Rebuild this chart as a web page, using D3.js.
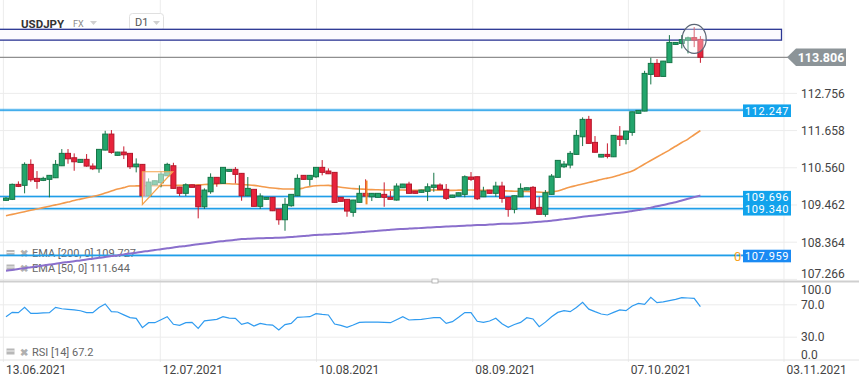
<!DOCTYPE html>
<html><head><meta charset="utf-8">
<script src="https://cdn.jsdelivr.net/npm/d3@7"></script>
<style>
html,body{margin:0;padding:0;background:#fff;}
svg{display:block;font-family:Roboto,"Open Sans",sans-serif;}
</style></head>
<body>
<div id="chart"></div>
<script>
// ---------- data ----------
const symbol = "USDJPY", market = "FX", interval = "D1";
const open = [109.584,109.614,110.056,110.027,110.646,110.233,110.174,110.204,110.251,110.605,
110.971,110.841,110.705,110.794,110.596,110.516,111.068,111.540,110.912,111.009,
110.971,110.575,110.646,109.720,110.044,110.104,110.310,110.605,109.976,109.791,
110.044,110.027,109.395,109.838,110.263,110.086,110.440,110.499,110.381,109.720,
109.909,109.407,109.614,109.673,109.328,109.012,109.425,109.720,110.322,110.204,
110.281,110.558,110.449,110.410,109.673,109.614,109.230,109.525,109.791,109.690,
109.673,109.761,109.673,109.593,109.956,110.065,109.859,109.820,109.850,109.968,
110.036,109.909,109.673,109.711,109.761,110.272,110.281,109.690,109.888,109.791,
110.006,109.673,109.319,109.690,109.888,109.968,109.378,109.171,109.761,110.263,
110.575,110.626,110.941,111.460,111.974,111.295,110.862,110.941,110.870,111.481,
111.384,111.590,112.151,112.219,113.301,113.626,113.242,113.649,114.186,114.216,
114.313,114.387,114.334];
const high = [109.682,110.080,110.144,110.705,110.794,110.449,110.281,110.331,110.773,111.097,
111.097,110.971,110.803,110.950,110.675,111.097,111.637,111.658,111.015,111.177,
110.980,110.823,110.655,110.233,110.168,110.428,110.693,110.693,109.982,110.086,
110.050,110.036,109.938,110.381,110.272,110.567,110.508,110.567,110.390,110.272,
109.918,109.791,109.682,109.682,109.333,109.652,109.770,110.351,110.331,110.331,
110.567,110.773,110.528,110.419,109.682,109.623,109.599,110.027,110.204,109.800,
109.800,110.115,109.859,110.086,110.071,110.133,109.865,109.894,110.086,110.398,
110.086,110.065,109.747,109.814,110.322,110.419,110.286,109.985,109.894,110.133,
110.133,109.682,109.726,110.086,109.962,110.006,109.690,109.888,110.360,110.773,
110.744,111.039,111.658,112.033,112.077,111.481,110.950,111.266,111.510,111.776,
111.634,112.204,112.248,113.408,113.791,113.753,113.699,114.460,114.254,114.460,
114.416,114.697,114.431];
const low = [109.564,109.593,109.976,109.791,110.133,109.926,110.153,109.673,110.242,110.596,
110.664,110.457,110.699,110.575,110.478,110.398,111.059,110.959,110.906,110.803,
110.508,110.410,109.711,109.711,110.036,109.968,110.301,109.932,109.711,109.711,
109.962,109.053,109.328,109.779,109.985,110.080,110.434,110.086,109.572,109.711,
109.401,109.328,109.608,109.268,108.864,108.687,109.395,109.711,110.198,110.015,
110.242,110.322,110.360,109.519,109.549,109.101,109.101,109.519,109.702,109.564,
109.667,109.395,109.608,109.578,109.947,109.785,109.785,109.814,109.564,109.838,
109.903,109.593,109.667,109.705,109.673,110.153,109.593,109.682,109.785,109.690,
109.513,109.101,109.201,109.682,109.882,109.328,109.165,109.101,109.755,110.257,
110.537,110.528,110.935,111.186,111.260,110.994,110.856,110.823,110.862,111.186,
111.236,111.490,112.145,112.213,113.006,113.236,113.236,113.643,114.180,114.068,
113.921,114.107,113.643];
const close = [109.652,110.056,109.997,110.646,110.192,110.144,110.233,110.322,110.646,110.971,
110.811,110.723,110.794,110.596,110.516,111.089,111.540,111.000,111.009,110.929,
110.575,110.655,109.720,110.124,110.163,110.360,110.646,109.938,109.791,110.044,
109.968,109.395,109.888,110.263,110.086,110.558,110.499,110.351,109.720,109.938,
109.407,109.711,109.673,109.277,109.012,109.466,109.761,110.233,110.204,110.322,
110.558,110.410,110.369,109.525,109.555,109.268,109.593,109.791,109.711,109.791,
109.791,109.673,109.614,110.006,110.065,109.791,109.791,109.888,109.985,110.036,
109.909,109.643,109.741,109.808,110.281,110.204,109.631,109.859,109.791,110.006,
109.643,109.319,109.720,109.938,109.956,109.336,109.171,109.808,110.301,110.764,
110.655,110.971,111.502,111.974,111.266,111.003,110.941,110.882,111.502,111.384,
111.629,112.198,112.239,113.331,113.626,113.242,113.694,114.245,114.245,114.325,
114.381,114.313,113.806];
const ema50 = [109.130,109.17,109.21,109.25,109.29,109.328,109.37,109.41,109.45,109.49,
109.534,109.58,109.62,109.66,109.70,109.741,109.80,109.86,109.918,109.96,
110.006,110.01,110.012,110.015,110.018,110.02,110.022,110.024,110.026,110.027,
110.027,110.04,110.05,110.06,110.07,110.08,110.075,110.065,110.05,110.04,
110.027,110.00,109.97,109.947,109.93,109.918,109.918,109.918,109.95,109.99,
110.015,110.022,110.027,110.00,109.97,109.95,109.93,109.92,109.91,109.90,
109.895,109.89,109.888,109.89,109.89,109.885,109.88,109.885,109.89,109.89,
109.885,109.88,109.88,109.885,109.888,109.888,109.885,109.88,109.875,109.87,
109.867,109.86,109.855,109.85,109.845,109.838,109.826,109.814,109.835,109.859,
109.92,109.98,110.02,110.065,110.11,110.154,110.20,110.24,110.28,110.335,
110.39,110.449,110.55,110.655,110.76,110.862,110.965,111.068,111.18,111.29,
111.392,111.52,111.644];
const ema200 = [107.508,107.53,107.56,107.58,107.61,107.64,107.66,107.69,107.71,107.74,
107.764,107.79,107.81,107.84,107.86,107.89,107.91,107.94,107.96,107.99,
108.015,108.04,108.07,108.09,108.12,108.14,108.17,108.19,108.22,108.24,
108.266,108.29,108.31,108.33,108.36,108.38,108.40,108.42,108.44,108.45,
108.46,108.465,108.47,108.475,108.481,108.49,108.50,108.52,108.53,108.55,
108.561,108.57,108.58,108.59,108.60,108.611,108.63,108.64,108.66,108.67,
108.69,108.70,108.72,108.729,108.74,108.75,108.758,108.77,108.78,108.79,
108.80,108.81,108.82,108.826,108.835,108.845,108.856,108.86,108.87,108.88,
108.89,108.895,108.90,108.906,108.92,108.94,108.95,108.97,108.985,109.003,
109.03,109.05,109.07,109.10,109.121,109.14,109.16,109.18,109.20,109.22,
109.24,109.27,109.30,109.33,109.37,109.41,109.446,109.49,109.53,109.58,
109.63,109.68,109.727];
const rsi = [54.7,60.1,59.7,66.2,58.8,58.8,59.3,59.7,66.2,64.5,
63.8,63.2,62,59.7,59.7,66,70.4,60.9,60.5,57,
53.5,52.7,41.2,47.3,47.3,51,54.7,45.3,44,47.3,
47.7,40.3,49.5,50.5,51.4,54.7,53,52.7,45.3,47.3,
43.2,46.5,45,44.4,38.3,45,46.5,53.9,54.3,54.7,
58.4,57.5,56.8,45.7,44,41.6,44.5,47.7,47.9,48,
48.1,47.7,47.3,51,54.7,50.6,51,51.4,52.5,53.5,
53.5,46.5,48.6,54,59.7,59.7,49,47.7,49.4,52.7,
46,41.6,45,47.7,53.5,51.9,42.4,48,54.7,60,
62.1,60.9,66,72.4,64,60.9,58,56.8,60,63,
62.1,68,71.2,70,78.6,72,73,74.5,76.1,78.2,
77.8,77.4,67.2];
const priceTicks = [112.756,111.658,110.560,109.462,108.364,107.266];
const rsiTicks = [100,70,30,0];
const dateLabels = ["13.06.2021","12.07.2021","10.08.2021","08.09.2021","07.10.2021","03.11.2021"];
const dateTickIndex = [-0.5,24.8,50,75.2,100.3,125.4];
const levelValues = [112.247,109.696,109.340,107.959];
const lastPrice = 113.806;
const zoneTop = 114.632, zoneBottom = 114.313;
const legendTexts = ["EMA [200, 0] 109.727","EMA [50, 0] 111.644"];
const rsiLegend = "RSI [14] 67.2";
// drawing objects (in data units: candle index, price)
const triangle = [[22,110.428],[26.9,110.428],[22,109.466]];
const ellipseCenter = [111.0,114.348];
const markerLine = [58.15,110.168,109.466];

// ---------- setup ----------
const W = 859, H = 385;
const svg = d3.select("#chart").append("svg").attr("width",W).attr("height",H);
const x = d3.scaleLinear().domain([0,112]).range([6,700.4]);
const y = d3.scaleLinear().domain([107.266,113.806]).range([278.9,57.3]);
const yr = d3.scaleLinear().domain([0,100]).range([361,280]);
const grid = "#ececec";

// vertical date grid
svg.append("g").attr("transform","translate(0,362)")
  .call(d3.axisBottom(x).tickValues(dateTickIndex).tickSize(-362).tickFormat((d,i)=>dateLabels[i]))
  .call(g=>{g.select(".domain").remove();
    g.selectAll("line").attr("stroke",grid);
    g.selectAll("text").attr("text-anchor","start").attr("dx",2.5).attr("y",3.5)
     .attr("fill","#444").style("font-size","12px").style("font-family","Roboto");});

// horizontal price grid + labels
svg.append("g").attr("transform","translate(797,0)")
  .call(d3.axisRight(y).tickValues(priceTicks).tickSize(-797).tickFormat(""))
  .call(g=>{g.select(".domain").remove(); g.selectAll("line").attr("stroke",grid);});
svg.append("g").selectAll("text").data(priceTicks).join("text")
  .attr("x",801).attr("y",d=>Math.min(274,y(d)+0.5)).attr("dy","0.36em")
  .attr("fill","#444").style("font-size","12px").text(d=>d.toFixed(3));

// RSI grid
svg.append("g").attr("transform","translate(797,0)")
  .call(d3.axisRight(yr).tickValues([70,30]).tickSize(-797).tickFormat(""))
  .call(g=>{g.select(".domain").remove(); g.selectAll("line").attr("stroke",grid);});
svg.append("line").attr("x1",0).attr("x2",859).attr("y1",360).attr("y2",360).attr("stroke","#e2e2e2");
svg.append("g").selectAll("text").data(rsiTicks).join("text")
  .attr("x",801).attr("y",d=>Math.max(289.5,Math.min(355,yr(d)))).attr("dy","0.36em")
  .attr("fill","#444").style("font-size","12px").text(d=>d.toFixed(1));

// separator between panels
svg.append("line").attr("x1",0).attr("x2",859).attr("y1",281.5).attr("y2",281.5).attr("stroke","#cfcfcf").attr("stroke-width",2);
svg.append("rect").attr("x",432).attr("y",279).attr("width",6).attr("height",4).attr("fill","#fff").attr("stroke","#aaa").attr("stroke-width",0.8);

// header
svg.append("text").attr("x",21).attr("y",27.5).attr("fill","#333").style("font-size","11.5px").style("font-weight","bold").text(symbol);
svg.append("text").attr("x",73).attr("y",26.5).attr("fill","#8a8a8a").style("font-size","9px").text(market);
svg.append("path").attr("d","M90,21 L97,21 L93.5,25 Z").attr("fill","#d0d0d0");
svg.append("rect").attr("x",129.5).attr("y",13.5).attr("width",34).attr("height",17).attr("rx",3).attr("fill","#fff").attr("stroke","#e0e0e0");
svg.append("text").attr("x",135).attr("y",26).attr("fill","#555").style("font-size","11px").text(interval);
svg.append("path").attr("d","M153,21 L160,21 L156.5,25 Z").attr("fill","#d0d0d0");

// resistance zone rectangle (navy)
svg.append("rect").attr("x",-5).attr("y",y(zoneTop)).attr("width",781.5+5).attr("height",y(zoneBottom)-y(zoneTop))
  .attr("fill","#fbfbfe").attr("stroke","#2a3593").attr("stroke-width",1.3);

// legends
const leg = svg.append("g");
function legendRow(yy, t){
  leg.append("rect").attr("x",6.5).attr("y",yy-3.5).attr("width",8).attr("height",6).attr("fill","#b8b8b8");
  leg.append("line").attr("x1",6.5).attr("x2",14.5).attr("y1",yy-1).attr("y2",yy-1).attr("stroke","#fff").attr("stroke-width",0.8);
  leg.append("text").attr("x",20).attr("y",yy).attr("dy","0.36em").attr("fill","#b0b0b0").style("font-size","10px").style("font-weight","bold").text("✖");
  leg.append("text").attr("x",32).attr("y",yy).attr("dy","0.36em").attr("fill","#666").style("font-size","11px").text(t);
}
legendTexts.forEach((t,i)=>legendRow(253.5 + i*14.5, t));
legendRow(352, rsiLegend);

// horizontal level lines
const lvl = svg.append("g");
levelValues.forEach(v=>{
  const xe = 743;
  lvl.append("line").attr("x1",0).attr("x2",xe).attr("y1",y(v)).attr("y2",y(v)).attr("stroke","rgba(40,160,235,0.35)").attr("stroke-width",3);
  lvl.append("line").attr("x1",0).attr("x2",xe).attr("y1",y(v)).attr("y2",y(v)).attr("stroke","#1f9ee8").attr("stroke-width",1.1);
});
// last price line
svg.append("line").attr("x1",0).attr("x2",788).attr("y1",y(lastPrice)).attr("y2",y(lastPrice)).attr("stroke","#8f8f8f").attr("stroke-width",1.3);

// EMA lines
const line = arr => d3.line().x((d,i)=>x(i)).y(d=>y(d)).curve(d3.curveMonotoneX)(arr);
svg.append("path").attr("d",line(ema200)).attr("fill","none").attr("stroke","#8a6fcc").attr("stroke-width",2);
svg.append("path").attr("d",line(ema50)).attr("fill","none").attr("stroke","#f39a4c").attr("stroke-width",1.6);

// candles
const idx = d3.range(open.length);
const up = i => close[i] >= open[i];
const cg = svg.append("g");
cg.selectAll("line.w").data(idx).join("line")
  .attr("x1",i=>x(i)).attr("x2",i=>x(i)).attr("y1",i=>y(high[i])).attr("y2",i=>y(low[i]))
  .attr("stroke",i=>up(i)?"#157547":"#c8192d").attr("stroke-width",1);
cg.selectAll("rect").data(idx).join("rect")
  .attr("x",i=>x(i)-2.5).attr("width",5)
  .attr("y",i=>y(Math.max(open[i],close[i])))
  .attr("height",i=>Math.max(1.5,Math.abs(y(open[i])-y(close[i]))))
  .attr("fill",i=>up(i)?"#22a56c":"#e8233b").attr("stroke",i=>up(i)?"#157547":"#b3172b").attr("stroke-width",1);

// drawing overlays
svg.append("path").attr("d",d3.line().x(d=>x(d[0])).y(d=>y(d[1]))(triangle)+"Z")
  .attr("fill","rgba(255,255,255,0.5)").attr("stroke","#f5a34c").attr("stroke-width",1.2);
svg.append("line").attr("x1",x(markerLine[0])).attr("x2",x(markerLine[0])).attr("y1",y(markerLine[1])).attr("y2",y(markerLine[2]))
  .attr("stroke","#f5862a").attr("stroke-width",2);
svg.append("ellipse").attr("cx",x(ellipseCenter[0])).attr("cy",y(ellipseCenter[1])).attr("rx",12).attr("ry",14.5)
  .attr("fill","rgba(255,255,255,0.35)").attr("stroke","#5b6675").attr("stroke-width",1.2);

// level labels
const boxColor = ["#12a3ec","#12a3ec","#12a3ec","#1a8af3"];
levelValues.forEach((v,i)=>{
  const yc = y(v)+0.6;
  svg.append("rect").attr("x",743).attr("y",yc-6.3).attr("width",48).attr("height",12.6).attr("fill",boxColor[i]);
  svg.append("text").attr("x",767).attr("y",yc).attr("dy","0.36em").attr("text-anchor","middle")
    .attr("fill","#fff").style("font-size","11px").style("letter-spacing","0.6px").text(v.toFixed(3));
});
svg.append("text").attr("x",734).attr("y",y(levelValues[3])+1).attr("dy","0.38em").attr("fill","#f7a21b").style("font-size","13px").text("0");

// last price label
{
  const yc = y(lastPrice);
  svg.append("path").attr("d",`M787,${yc} L796,${yc-8.7} L846,${yc-8.7} L846,${yc+8.7} L796,${yc+8.7} Z`).attr("fill","#8c9498");
  svg.append("text").attr("x",821).attr("y",yc).attr("dy","0.36em").attr("text-anchor","middle")
    .attr("fill","#fff").style("font-size","12.5px").style("font-weight","bold").text(lastPrice.toFixed(3));
}

// RSI line
svg.append("path").attr("d",d3.line().x((d,i)=>x(i)).y(d=>yr(d))(rsi))
  .attr("fill","none").attr("stroke","#2f9bf0").attr("stroke-width",1.2);
</script>
</body></html>
